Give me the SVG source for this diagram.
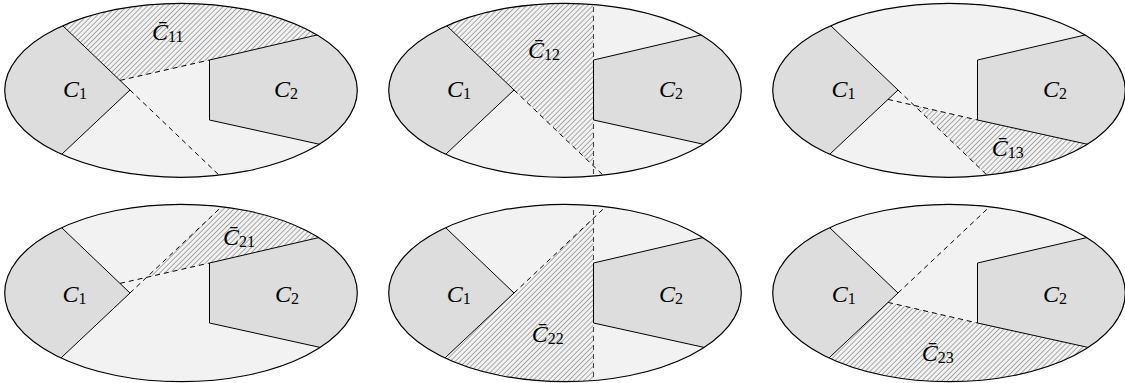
<svg xmlns="http://www.w3.org/2000/svg" xmlns:xlink="http://www.w3.org/1999/xlink" width="1125" height="383" viewBox="0 0 1125 383">
<style>
.bg{fill:#f2f2f2;stroke:none}
.cell{fill:#dddddd;stroke:none}
.hatch{fill:url(#hat);stroke:none}
.edge{fill:none;stroke:#000;stroke-width:1}
.dash{fill:none;stroke:#000;stroke-width:1;stroke-dasharray:5 4}
.vdash{fill:none;stroke:#444;stroke-width:1.1;stroke-dasharray:5 4}
.outline{fill:none;stroke:#000;stroke-width:1.2}
.lab{font-family:"Liberation Serif","DejaVu Serif",serif;font-size:24px;fill:#000}
.c{font-style:italic}
.s{font-size:16px;font-style:normal}
</style>
<defs>
<pattern id="hat" patternUnits="userSpaceOnUse" width="3.6" height="10" patternTransform="rotate(45)">
<rect x="0" y="0" width="3.6" height="10" fill="#f2f2f2"/>
<rect x="0" y="0" width="0.9" height="10" fill="#a0a0a0"/>
</pattern>
<clipPath id="clipT"><ellipse cx="181" cy="90.3" rx="176.3" ry="87"/></clipPath>
<clipPath id="clipB"><ellipse cx="181" cy="90" rx="176.3" ry="88.7"/></clipPath>
</defs>

<g id="panel11" transform="translate(0,0)">
<g clip-path="url(#clipT)">
<ellipse class="bg" cx="181" cy="90.3" rx="176.3" ry="87"/>
<polygon class="hatch" points="120,80.4 209.5,60 424,10 424,-80 -6,-80 -6,-40"/>
<polygon class="cell" points="-6,-40 130,90 -6,218 -60,218 -60,-40"/>
<polygon class="cell" points="424.5,10 209.5,60 209.5,120 427,168 480,168 480,10"/>
<g class="connectors">
<line class="dash" x1="120" y1="80.4" x2="209.5" y2="60"/>
<line class="dash" x1="130" y1="90" x2="266" y2="220"/>
</g>
<polyline class="edge" points="-6,-40 130,90 -6,218"/>
<polyline class="edge" points="424.5,10 209.5,60 209.5,120 427,168"/>
</g>
<ellipse class="outline" cx="181" cy="90.3" rx="176.3" ry="87"/>
<text class="lab" x="63" y="97"><tspan class="c">C</tspan><tspan class="s" dy="2">1</tspan></text>
<text class="lab" x="274" y="97"><tspan class="c">C</tspan><tspan class="s" dy="2">2</tspan></text>
<text class="lab" x="152" y="40"><tspan class="c">C&#x304;</tspan><tspan class="s" dy="2">11</tspan></text>
</g>

<g id="panel12" transform="translate(384,0)">
<g clip-path="url(#clipT)">
<ellipse class="bg" cx="181" cy="90.3" rx="176.3" ry="87"/>
<polygon class="hatch" points="-6,-40 130,90 209.5,166 209.5,-80 -6,-80"/>
<polygon class="cell" points="-6,-40 130,90 -6,218 -60,218 -60,-40"/>
<polygon class="cell" points="424.5,10 209.5,60 209.5,120 427,168 480,168 480,10"/>
<g class="connectors">
<line class="dash" x1="130" y1="90" x2="266" y2="220"/>
<line class="vdash" x1="209.5" y1="-20" x2="209.5" y2="200"/>
</g>
<polyline class="edge" points="-6,-40 130,90 -6,218"/>
<polyline class="edge" points="424.5,10 209.5,60 209.5,120 427,168"/>
</g>
<ellipse class="outline" cx="181" cy="90.3" rx="176.3" ry="87"/>
<text class="lab" x="63" y="97"><tspan class="c">C</tspan><tspan class="s" dy="2">1</tspan></text>
<text class="lab" x="275" y="97"><tspan class="c">C</tspan><tspan class="s" dy="2">2</tspan></text>
<text class="lab" x="144" y="58"><tspan class="c">C&#x304;</tspan><tspan class="s" dy="2">12</tspan></text>
</g>

<g id="panel13" transform="translate(768,0)">
<g clip-path="url(#clipT)">
<ellipse class="bg" cx="181" cy="90.3" rx="176.3" ry="87"/>
<polygon class="hatch" points="146.1,105.4 209.5,120 427,168 427,300 349.7,300"/>
<polygon class="cell" points="-6,-40 130,90 -6,218 -60,218 -60,-40"/>
<polygon class="cell" points="424.5,10 209.5,60 209.5,120 427,168 480,168 480,10"/>
<g class="connectors">
<line class="dash" x1="120" y1="99.4" x2="209.5" y2="120"/>
<line class="dash" x1="130" y1="90" x2="266" y2="220"/>
</g>
<polyline class="edge" points="-6,-40 130,90 -6,218"/>
<polyline class="edge" points="424.5,10 209.5,60 209.5,120 427,168"/>
</g>
<ellipse class="outline" cx="181" cy="90.3" rx="176.3" ry="87"/>
<text class="lab" x="63.5" y="97"><tspan class="c">C</tspan><tspan class="s" dy="2">1</tspan></text>
<text class="lab" x="275" y="97"><tspan class="c">C</tspan><tspan class="s" dy="2">2</tspan></text>
<text class="lab" x="223.7" y="156"><tspan class="c">C&#x304;</tspan><tspan class="s" dy="2">13</tspan></text>
</g>

<g id="panel21" transform="translate(0,203)">
<g clip-path="url(#clipB)">
<ellipse class="bg" cx="181" cy="90" rx="176.3" ry="88.7"/>
<polygon class="hatch" points="146.7,74.3 209.5,60 424,10 424,-80 310.6,-80"/>
<polygon class="cell" points="-6,-40 130,90 -6,218 -60,218 -60,-40"/>
<polygon class="cell" points="424.5,10 209.5,60 209.5,120 427,168 480,168 480,10"/>
<g class="connectors">
<line class="dash" x1="120" y1="80.4" x2="209.5" y2="60"/>
<line class="dash" x1="130" y1="90" x2="266" y2="-38"/>
</g>
<polyline class="edge" points="-6,-40 130,90 -6,218"/>
<polyline class="edge" points="424.5,10 209.5,60 209.5,120 427,168"/>
</g>
<ellipse class="outline" cx="181" cy="90" rx="176.3" ry="88.7"/>
<text class="lab" x="62.5" y="99"><tspan class="c">C</tspan><tspan class="s" dy="2">1</tspan></text>
<text class="lab" x="275" y="99"><tspan class="c">C</tspan><tspan class="s" dy="2">2</tspan></text>
<text class="lab" x="223" y="42"><tspan class="c">C&#x304;</tspan><tspan class="s" dy="2">21</tspan></text>
</g>

<g id="panel22" transform="translate(384,203)">
<g clip-path="url(#clipB)">
<ellipse class="bg" cx="181" cy="90" rx="176.3" ry="88.7"/>
<polygon class="hatch" points="-6,218 130,90 209.5,15.2 209.5,300 -6,300"/>
<polygon class="cell" points="-6,-40 130,90 -6,218 -60,218 -60,-40"/>
<polygon class="cell" points="424.5,10 209.5,60 209.5,120 427,168 480,168 480,10"/>
<g class="connectors">
<line class="dash" x1="130" y1="90" x2="266" y2="-38"/>
<line class="vdash" x1="209.5" y1="-20" x2="209.5" y2="200"/>
</g>
<polyline class="edge" points="-6,-40 130,90 -6,218"/>
<polyline class="edge" points="424.5,10 209.5,60 209.5,120 427,168"/>
</g>
<ellipse class="outline" cx="181" cy="90" rx="176.3" ry="88.7"/>
<text class="lab" x="62.7" y="99"><tspan class="c">C</tspan><tspan class="s" dy="2">1</tspan></text>
<text class="lab" x="275" y="99"><tspan class="c">C</tspan><tspan class="s" dy="2">2</tspan></text>
<text class="lab" x="147.7" y="139"><tspan class="c">C&#x304;</tspan><tspan class="s" dy="2">22</tspan></text>
</g>

<g id="panel23" transform="translate(768,203)">
<g clip-path="url(#clipB)">
<ellipse class="bg" cx="181" cy="90" rx="176.3" ry="88.7"/>
<polygon class="hatch" points="120,99.4 209.5,120 427,168 427,300 -6,300 -6,218"/>
<polygon class="cell" points="-6,-40 130,90 -6,218 -60,218 -60,-40"/>
<polygon class="cell" points="424.5,10 209.5,60 209.5,120 427,168 480,168 480,10"/>
<g class="connectors">
<line class="dash" x1="120" y1="99.4" x2="209.5" y2="120"/>
<line class="dash" x1="130" y1="90" x2="266" y2="-38"/>
</g>
<polyline class="edge" points="-6,-40 130,90 -6,218"/>
<polyline class="edge" points="424.5,10 209.5,60 209.5,120 427,168"/>
</g>
<ellipse class="outline" cx="181" cy="90" rx="176.3" ry="88.7"/>
<text class="lab" x="63.7" y="99"><tspan class="c">C</tspan><tspan class="s" dy="2">1</tspan></text>
<text class="lab" x="275" y="99"><tspan class="c">C</tspan><tspan class="s" dy="2">2</tspan></text>
<text class="lab" x="153.7" y="158"><tspan class="c">C&#x304;</tspan><tspan class="s" dy="2">23</tspan></text>
</g>
</svg>
